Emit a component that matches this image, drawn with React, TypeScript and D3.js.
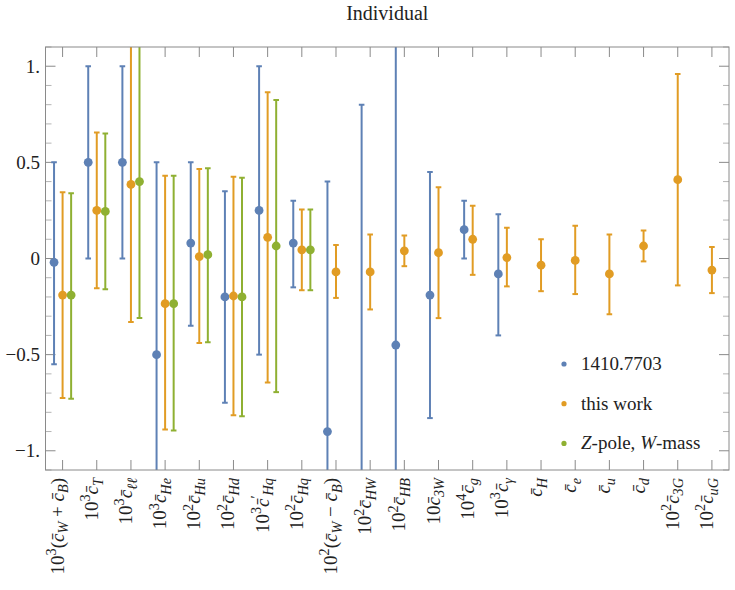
import React from "react";
import * as d3 from "d3";

const categories = [
  "10^{3}(c_{W} + c_{B})", "10^{3}c_{T}", "10^{3}c_{ℓℓ}", "10^{3}c_{He}", "10^{2}c_{Hu}",
  "10^{2}c_{Hd}", "10^{3}c'_{Hq}", "10^{2}c_{Hq}", "10^{2}(c_{W} − c_{B})", "10^{2}c_{HW}",
  "10^{2}c_{HB}", "10c_{3W}", "10^{4}c_{g}", "10^{3}c_{γ}", "c_{H}",
  "c_{e}", "c_{u}", "c_{d}", "10^{2}c_{3G}", "10^{2}c_{uG}",
];

// 1410.7703
const blueCenter = [-0.02, 0.5, 0.5, -0.5, 0.08, -0.2, 0.25, 0.08, -0.9, -1.6, -0.45, -0.19, 0.15, -0.08, null, null, null, null, null, null];
const blueLow = [-0.55, 0, 0, -1.5, -0.35, -0.75, -0.5, -0.15, -2.2, -4, -2.5, -0.83, 0, -0.4, null, null, null, null, null, null];
const blueHigh = [0.5, 1.0, 1.0, 0.5, 0.5, 0.35, 1.0, 0.3, 0.4, 0.8, 1.6, 0.45, 0.3, 0.23, null, null, null, null, null, null];

// this work
const orangeCenter = [-0.19, 0.25, 0.385, -0.235, 0.01, -0.195, 0.11, 0.045, -0.07, -0.07, 0.04, 0.03, 0.1, 0.005, -0.035, -0.01, -0.08, 0.065, 0.41, -0.06];
const orangeLow = [-0.725, -0.155, -0.33, -0.89, -0.44, -0.815, -0.645, -0.165, -0.205, -0.265, -0.04, -0.31, -0.085, -0.145, -0.17, -0.185, -0.29, -0.015, -0.14, -0.18];
const orangeHigh = [0.345, 0.655, 1.2, 0.43, 0.465, 0.425, 0.865, 0.255, 0.07, 0.125, 0.12, 0.37, 0.275, 0.16, 0.1, 0.17, 0.125, 0.145, 0.96, 0.06];

// Z-pole, W-mass
const greenCenter = [-0.19, 0.245, 0.4, -0.235, 0.02, -0.2, 0.065, 0.045, null, null, null, null, null, null, null, null, null, null, null, null];
const greenLow = [-0.73, -0.16, -0.31, -0.895, -0.435, -0.82, -0.695, -0.165, null, null, null, null, null, null, null, null, null, null, null, null];
const greenHigh = [0.34, 0.65, 1.2, 0.43, 0.47, 0.42, 0.825, 0.255, null, null, null, null, null, null, null, null, null, null, null, null];

const yMajorTicks = [-1, -0.5, 0, 0.5, 1];
const yTickLabels = ["−1.", "−0.5", "0", "0.5", "1."];
const title = "Individual";

const W = 735, H = 590;
const L = 45.5, R = 729, T = 47, B = 470;
const FONT = "Liberation Serif";

const series = [
  { name: "1410.7703", color: "#5E81B5", offset: -0.25, c: blueCenter, lo: blueLow, hi: blueHigh },
  { name: "this work", color: "#E19C24", offset: 0, c: orangeCenter, lo: orangeLow, hi: orangeHigh },
  { name: "Z-pole, W-mass", color: "#8FB032", offset: 0.25, c: greenCenter, lo: greenLow, hi: greenHigh },
];

function parseLabel(s: string) {
  const re = /\^\{([^}]*)\}|_\{([^}]*)\}|(c)|(')|([^\^_c']+)/g;
  const parts: { t: string; kind: string }[] = [];
  let m: RegExpExecArray | null;
  while ((m = re.exec(s))) {
    if (m[1] !== undefined) parts.push({ t: m[1], kind: "sup" });
    else if (m[2] !== undefined) parts.push({ t: m[2], kind: "sub" });
    else if (m[3]) parts.push({ t: "c\u0304", kind: "var" });
    else if (m[4]) parts.push({ t: "\u2032", kind: "sup" });
    else parts.push({ t: m[5], kind: "txt" });
  }
  return parts;
}

function MathLabel({ s, fs }: { s: string; fs: number }) {
  const parts = parseLabel(s);
  let cur = 0;
  return (
    <>
      {parts.map((p, i) => {
        const target = p.kind === "sup" ? -0.4 * fs : p.kind === "sub" ? 0.25 * fs : 0;
        const dy = target - cur;
        cur = target;
        const small = p.kind === "sup" || p.kind === "sub";
        const italic = p.kind === "var" || p.kind === "sub";
        return (
          <tspan key={i} dy={dy} style={{ fontSize: small ? fs * 0.75 : fs, fontStyle: italic ? "italic" : "normal" }}>
            {p.t}
          </tspan>
        );
      })}
    </>
  );
}

export default function App() {
  const x = d3.scaleLinear().domain([0.5, categories.length + 0.5]).range([L, R]);
  const y = d3.scaleLinear().domain([-1.1, 1.1]).range([B, T]);
  const minorTicks = d3.range(-11, 12).map((v) => v / 10).filter((v) => Math.abs(v * 2 - Math.round(v * 2)) > 1e-6);
  const frameColor = "#8a8a8a";
  const minorColor = "#b5b5b5";
  const fs = 19;
  const txt = { fontFamily: FONT, fill: "#222" } as React.CSSProperties;

  return (
    <svg width={W} height={H} style={{ position: "absolute", left: 0, top: 0, background: "#fff", fontFamily: FONT }}>
      <defs>
        <clipPath id="plotclip">
          <rect x={L} y={T} width={R - L} height={B - T} />
        </clipPath>
      </defs>
      <text x={(L + R) / 2} y={20} textAnchor="middle" style={{ ...txt, fontSize: 20 }}>{title}</text>

      {/* y ticks */}
      {yMajorTicks.map((v, i) => (
        <g key={"ym" + i}>
          <line x1={L} x2={L + 10} y1={y(v)} y2={y(v)} stroke={frameColor} strokeWidth={1} />
          <line x1={R} x2={R - 10} y1={y(v)} y2={y(v)} stroke={frameColor} strokeWidth={1} />
          <text x={40} y={y(v)} dy="0.35em" textAnchor="end" style={{ ...txt, fontSize: fs }}>{yTickLabels[i]}</text>
        </g>
      ))}
      {minorTicks.map((v, i) => (
        <g key={"yn" + i}>
          <line x1={L} x2={L + 6} y1={y(v)} y2={y(v)} stroke={minorColor} strokeWidth={1} />
          <line x1={R} x2={R - 6} y1={y(v)} y2={y(v)} stroke={minorColor} strokeWidth={1} />
        </g>
      ))}
      {/* x ticks */}
      {categories.map((c, i) => (
        <g key={"xt" + i}>
          <line x1={x(i + 1)} x2={x(i + 1)} y1={T} y2={T + 10} stroke={frameColor} strokeWidth={1} />
          <line x1={x(i + 1)} x2={x(i + 1)} y1={B} y2={B - 10} stroke={frameColor} strokeWidth={1} />
          <text transform={`translate(${x(i + 1) + 1},${478}) rotate(-90)`} textAnchor="end" style={{ ...txt, fontSize: fs }}>
            <MathLabel s={c} fs={fs} />
          </text>
        </g>
      ))}

      {/* data */}
      <g clipPath="url(#plotclip)">
        {series.map((s) =>
          s.c.map((v, i) => {
            if (v === null) return null;
            const cx = x(i + 1 + s.offset);
            const lo = s.lo[i] as number;
            const hi = s.hi[i] as number;
            return (
              <g key={s.name + i}>
                <line x1={cx} x2={cx} y1={y(lo)} y2={y(hi)} stroke={s.color} strokeWidth={2} />
                <line x1={cx - 2.8} x2={cx + 2.8} y1={y(lo)} y2={y(lo)} stroke={s.color} strokeWidth={2} />
                <line x1={cx - 2.8} x2={cx + 2.8} y1={y(hi)} y2={y(hi)} stroke={s.color} strokeWidth={2} />
                <circle cx={cx} cy={y(v)} r={4.4} fill={s.color} />
              </g>
            );
          })
        )}
      </g>

      {/* frame */}
      <rect x={L} y={T} width={R - L} height={B - T} fill="none" stroke={frameColor} strokeWidth={1} />

      {/* legend */}
      {series.map((s, i) => (
        <g key={"lg" + i} transform={`translate(564,${364 + i * 39.7})`}>
          <circle cx={0} cy={0} r={2.6} fill={s.color} />
          <text x={17} y={6} style={{ ...txt, fontSize: fs }}>
            {i === 2 ? (
              <>
                <tspan style={{ fontStyle: "italic" }}>Z</tspan>
                <tspan>-pole, </tspan>
                <tspan style={{ fontStyle: "italic" }}>W</tspan>
                <tspan>-mass</tspan>
              </>
            ) : (
              s.name
            )}
          </text>
        </g>
      ))}
    </svg>
  );
}
